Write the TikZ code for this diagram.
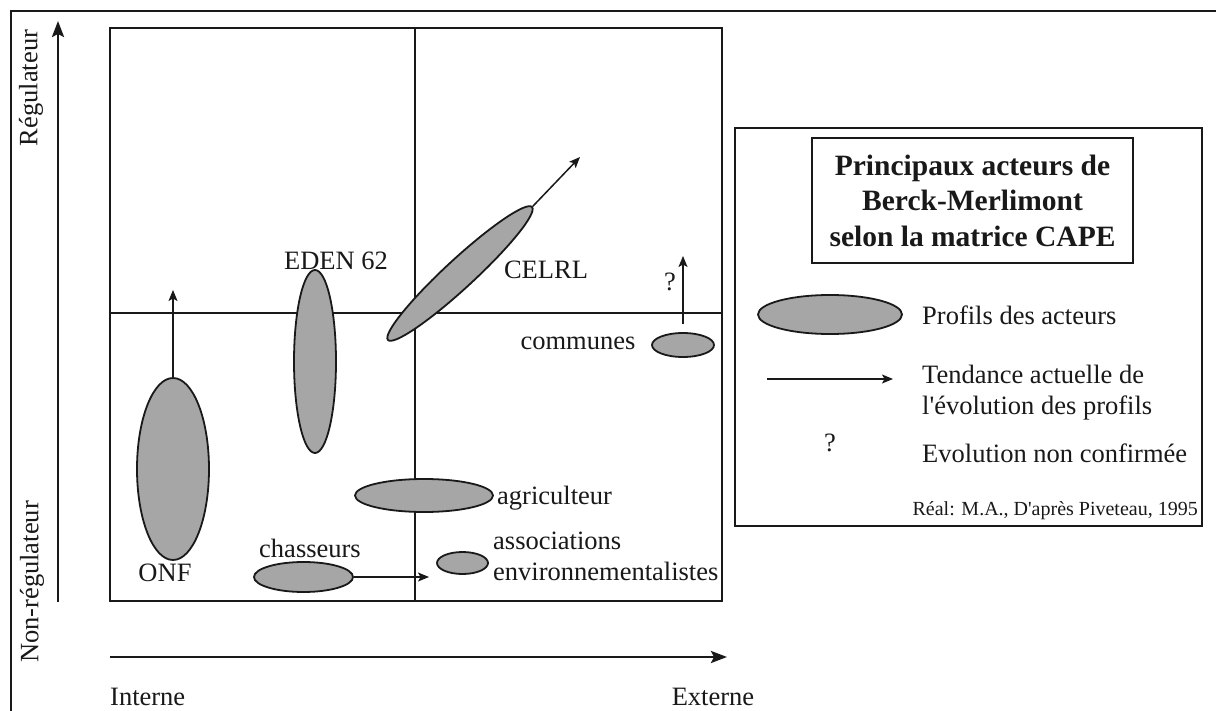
\documentclass[tikz,border=0pt]{standalone}
\usepackage{fontspec}
\setmainfont{Liberation Serif}[Ligatures=TeXOff]
\usetikzlibrary{shapes.geometric,arrows.meta}
\definecolor{profil}{RGB}{166,166,166}
\definecolor{ink}{RGB}{25,25,25}
\begin{document}
\begin{tikzpicture}[x=1pt,y=-1pt,
  lbl/.style={inner sep=0pt, text=ink, font=\fontsize{26.5}{31}\selectfont},
  small/.style={inner sep=0pt, text=ink, font=\fontsize{20}{24}\selectfont},
  profile/.style={ellipse, draw=ink, fill=profil, line width=1.8pt, inner sep=0pt},
  trend/.style={draw=ink, line width=1.5pt, -{Stealth[length=11pt,width=9pt,inset=2.5pt]}},
  axis/.style={draw=ink, line width=2.6pt, -{Stealth[length=16pt,width=12pt,inset=3pt]}},
  frame/.style={draw=ink, line width=1.8pt},
  boxnode/.style={rectangle, draw=ink, line width=1.8pt, inner sep=0pt}]
\useasboundingbox (0,0) rectangle (1216,711);
\fill[white] (0,0) rectangle (1216,711);

% outer frame (top and left edges)
\coordinate (ftl) at (11,11);
\coordinate (ftr) at (1216,11);
\coordinate (fbl) at (11,711);
\draw[frame] (ftr) -- (ftl) -- (fbl);

% axes
\coordinate (vaxB) at (58,602);
\coordinate (vaxT) at (58,21);
\draw[axis] (vaxB) -- (vaxT);
\coordinate (haxL) at (110,657);
\coordinate (haxR) at (727,657);
\draw[axis] (haxL) -- (haxR);

\node[lbl, rotate=90] (reg) at (31,88) {Régulateur};
\node[lbl, rotate=90] (nonreg) at (32,582) {Non-régulateur};
\node[lbl, anchor=west] (interne) at (110,697) {Interne};
\node[lbl] (externe) at (713,697) {Externe};

% matrix
\node[boxnode, minimum width=612pt, minimum height=573pt] (mat) at (416,314.5) {};
\coordinate (qx) at (415,0);
\coordinate (qy) at (0,313);
\draw[frame] (mat.north -| qx) -- (mat.south -| qx);
\draw[frame] (mat.west |- qy) -- (mat.east |- qy);

% profiles
\node[profile, minimum width=72pt, minimum height=182pt] (onf) at (173,469) {};
\node[profile, minimum width=42pt, minimum height=183pt] (eden) at (315,361.5) {};
\node[profile, minimum width=196pt, minimum height=29pt, rotate=42.7] (celrl) at (460,273.5) {};
\node[profile, minimum width=62pt, minimum height=24pt] (communes) at (683,345) {};
\node[profile, minimum width=138pt, minimum height=33pt] (agri) at (424,495.5) {};
\node[profile, minimum width=99pt, minimum height=30pt] (chasseurs) at (303.5,577) {};
\node[profile, minimum width=51pt, minimum height=22pt] (assoc) at (462.5,563) {};

% trends
\coordinate (onfT) at (173,290);
\draw[trend] (onf.north) -- (onfT);
\coordinate (celT) at (580,157);
\draw[trend] (celrl.east) -- (celT);
\coordinate (comT) at (683,256);
\draw[trend, shorten <=8pt] (communes.north) -- (comT);
\coordinate (chT) at (429,577);
\draw[trend] (chasseurs.east) -- (chT);

% labels
\node[lbl] (lonf) at (165,573) {ONF};
\node[lbl] (leden) at (336,261) {EDEN 62};
\node[lbl] (lcelrl) at (546,270) {CELRL};
\node[lbl] (lcom) at (578,343) {communes};
\node[lbl] (lq) at (670,282) {?};
\node[lbl, anchor=west] (lagri) at (497,498) {agriculteur};
\node[lbl] (lchas) at (310,548) {chasseurs};
\node[lbl, anchor=west, align=left] (lassoc) at (493,556.5) {associations\\environnementalistes};

% legend
\node[boxnode, minimum width=467pt, minimum height=398pt] (legend) at (968.5,327) {};
\node[boxnode, minimum width=321pt, minimum height=125pt, align=center, text=ink,
      font=\bfseries\fontsize{29.5}{35.5}\selectfont] (title) at (972.5,200.5)
      {Principaux acteurs de\\Berck-Merlimont\\selon la matrice CAPE};
\node[profile, minimum width=144pt, minimum height=39pt] (legell) at (830,314.5) {};
\node[lbl, anchor=west] (legellt) at (922,315) {Profils des acteurs};
\coordinate (legaL) at (767,379);
\coordinate (legaR) at (893,379);
\draw[trend] (legaL) -- (legaR);
\node[lbl, anchor=west, align=left] (legat) at (922,392.5) {Tendance actuelle de\\l'évolution des profils};
\node[lbl] (legq) at (830,443) {?};
\node[lbl, anchor=west] (legqt) at (922,453) {Evolution non confirmée};
\node[small, anchor=east] (credit) at (1198,511) {Réal: M.A., D'après Piveteau, 1995};
\end{tikzpicture}
\end{document}
